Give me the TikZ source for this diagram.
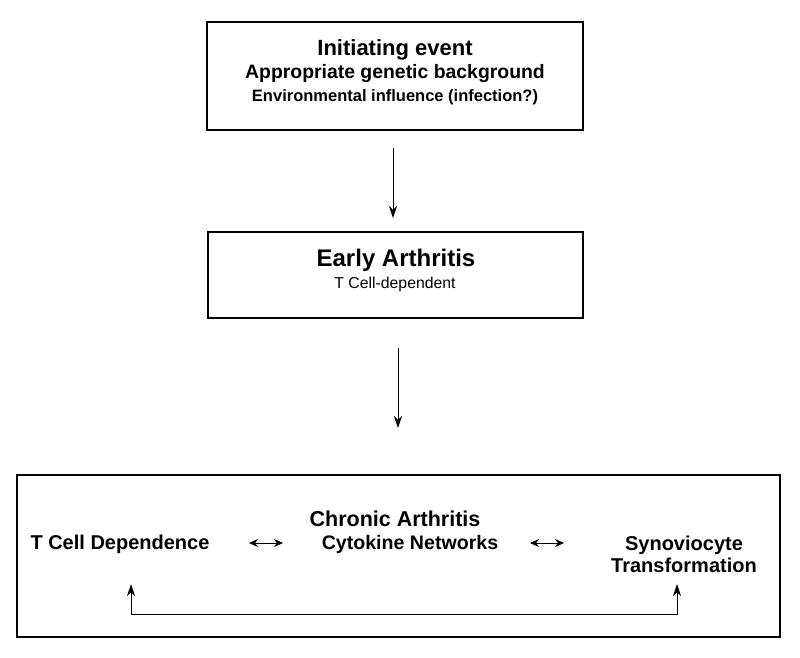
\documentclass[tikz,border=0pt]{standalone}
\usepackage{fontspec}
\setmainfont{Liberation Sans}
\usetikzlibrary{arrows.meta}
\begin{document}
\begin{tikzpicture}[x=1pt,y=-1pt,
  box/.style={draw,line width=2pt},
  arr/.style={-{Stealth[length=12pt,width=8pt]},line width=0.8pt},
  darr/.style={{Stealth[length=9pt,width=8pt]}-{Stealth[length=9pt,width=8pt]},line width=0.8pt},
  t/.style={inner sep=0pt,font=\bfseries}]
\useasboundingbox (0,0) rectangle (800,657);
\node[box,minimum width=376pt,minimum height=108pt] (b1) at (395,76) {};
\node[box,minimum width=375pt,minimum height=86pt] (b2) at (395,275) {};
\node[box,minimum width=763pt,minimum height=162pt] (b3) at (398.5,556) {};
\node[t,font=\fontsize{22}{26}\selectfont\bfseries] (t1) at (395,50) {Initiating event};
\node[t,font=\fontsize{19.4}{22}\selectfont\bfseries] (t2) at (395,74) {Appropriate genetic background};
\node[t,font=\fontsize{16.5}{19}\selectfont\bfseries] (t3) at (395,97) {Environmental influence (infection?)};
\node[t,font=\fontsize{24}{28}\selectfont\bfseries] (e1) at (396,260) {Early Arthritis};
\node[t,font=\fontsize{15.8}{18}\selectfont] (e2) at (395,284) {T Cell-dependent};
\node[t,font=\fontsize{21.5}{25}\selectfont\bfseries] (c1) at (395,519) {Chronic Arthritis};
\node[t,font=\fontsize{20}{22}\selectfont\bfseries] (c2) at (120,544) {T Cell Dependence};
\node[t,font=\fontsize{19.6}{22}\selectfont\bfseries] (c3) at (410,544) {Cytokine Networks};
\node[t,font=\fontsize{20}{22}\selectfont\bfseries,align=center] (c4) at (684,554) {Synoviocyte\\[0pt]Transformation};
\coordinate (a1s) at (393,148); \coordinate (a1e) at (393,218);
\coordinate (a2s) at (398,348); \coordinate (a2e) at (398,428);
\draw[arr] (a1s) -- (a1e);
\draw[arr] (a2s) -- (a2e);
\coordinate (d1a) at (249,543); \coordinate (d1b) at (283,543);
\coordinate (d2a) at (530,543); \coordinate (d2b) at (564,543);
\draw[darr] (d1a) -- (d1b);
\draw[darr] (d2a) -- (d2b);
\coordinate (l1) at (131,584); \coordinate (l2) at (677,584);
\draw[{Stealth[length=12pt,width=8pt]}-{Stealth[length=12pt,width=8pt]},line width=0.8pt] (l1) -- (131,614) -- (677,614) -- (l2);
\end{tikzpicture}
\end{document}
